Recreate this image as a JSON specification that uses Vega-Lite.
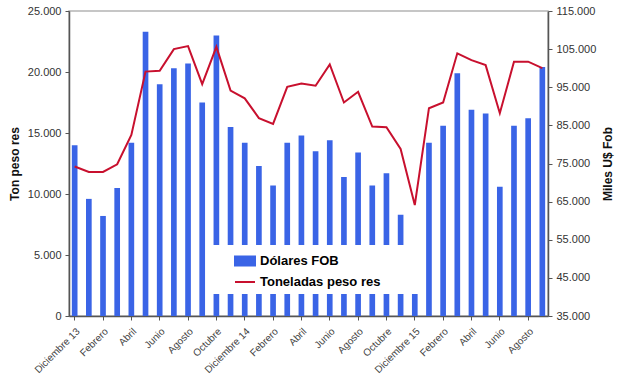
{
  "$schema": "https://vega.github.io/schema/vega-lite/v6.json",
  "width": 479,
  "height": 305,
  "autosize": {"type": "none"},
  "padding": {"left": 69, "top": 11, "right": 72, "bottom": 59},
  "background": "white",
  "config": {
    "font": "Liberation Sans",
    "view": {"stroke": "#b4b4b4", "strokeWidth": 1.5},
    "axis": {"domainColor": "#555555", "tickColor": "#555555", "labelColor": "#333333", "titleColor": "#111111", "grid": false, "labelFont": "Liberation Sans", "titleFont": "Liberation Sans"}
  },
  "data": {
    "values": [
      {"mes": "Diciembre 13", "dolares_fob": 14000, "toneladas": 74200},
      {"mes": "Enero 14", "dolares_fob": 9600, "toneladas": 72800},
      {"mes": "Febrero 14", "dolares_fob": 8200, "toneladas": 72800},
      {"mes": "Marzo 14", "dolares_fob": 10500, "toneladas": 74800},
      {"mes": "Abril 14", "dolares_fob": 14200, "toneladas": 82500},
      {"mes": "Mayo 14", "dolares_fob": 23300, "toneladas": 99100},
      {"mes": "Junio 14", "dolares_fob": 19000, "toneladas": 99300},
      {"mes": "Julio 14", "dolares_fob": 20300, "toneladas": 105000},
      {"mes": "Agosto 14", "dolares_fob": 20700, "toneladas": 105800},
      {"mes": "Septiembre 14", "dolares_fob": 17500, "toneladas": 95800},
      {"mes": "Octubre 14", "dolares_fob": 23000, "toneladas": 105600},
      {"mes": "Noviembre 14", "dolares_fob": 15500, "toneladas": 94100},
      {"mes": "Diciembre 14", "dolares_fob": 14200, "toneladas": 92100},
      {"mes": "Enero 15", "dolares_fob": 12300, "toneladas": 86900},
      {"mes": "Febrero 15", "dolares_fob": 10700, "toneladas": 85400},
      {"mes": "Marzo 15", "dolares_fob": 14200, "toneladas": 95100},
      {"mes": "Abril 15", "dolares_fob": 14800, "toneladas": 96000},
      {"mes": "Mayo 15", "dolares_fob": 13500, "toneladas": 95400},
      {"mes": "Junio 15", "dolares_fob": 14400, "toneladas": 101000},
      {"mes": "Julio 15", "dolares_fob": 11400, "toneladas": 91000},
      {"mes": "Agosto 15", "dolares_fob": 13400, "toneladas": 93800},
      {"mes": "Septiembre 15", "dolares_fob": 10700, "toneladas": 84700},
      {"mes": "Octubre 15", "dolares_fob": 11700, "toneladas": 84500},
      {"mes": "Noviembre 15", "dolares_fob": 8300, "toneladas": 78800},
      {"mes": "Diciembre 15", "dolares_fob": 4000, "toneladas": 64100},
      {"mes": "Enero 16", "dolares_fob": 14200, "toneladas": 89500},
      {"mes": "Febrero 16", "dolares_fob": 15600, "toneladas": 91000},
      {"mes": "Marzo 16", "dolares_fob": 19900, "toneladas": 103900},
      {"mes": "Abril 16", "dolares_fob": 16900, "toneladas": 102100},
      {"mes": "Mayo 16", "dolares_fob": 16600, "toneladas": 100800},
      {"mes": "Junio 16", "dolares_fob": 10600, "toneladas": 88200},
      {"mes": "Julio 16", "dolares_fob": 15600, "toneladas": 101700},
      {"mes": "Agosto 16", "dolares_fob": 16200, "toneladas": 101700},
      {"mes": "Septiembre 16", "dolares_fob": 20400, "toneladas": 100000}
    ]
  },
  "encoding": {
    "x": {
      "field": "mes",
      "type": "ordinal",
      "sort": null,
      "scale": {"type": "band", "paddingInner": 0.6, "paddingOuter": 0.2},
      "axis": {
        "title": null,
        "values": ["Diciembre 13", "Febrero 14", "Abril 14", "Junio 14", "Agosto 14", "Octubre 14", "Diciembre 14", "Febrero 15", "Abril 15", "Junio 15", "Agosto 15", "Octubre 15", "Diciembre 15", "Febrero 16", "Abril 16", "Junio 16", "Agosto 16"],
        "labelExpr": "indexof(datum.value, 'Diciembre') === 0 ? datum.value : split(datum.value, ' ')[0]",
        "labelAngle": -45,
        "labelFontSize": 10,
        "labelColor": "#444444",
        "labelPadding": 6,
        "tickSize": 4,
        "domainWidth": 1.5
      }
    }
  },
  "layer": [
    {
      "mark": {"type": "bar", "color": "#3a64e6"},
      "encoding": {
        "y": {
          "field": "dolares_fob",
          "type": "quantitative",
          "scale": {"domain": [0, 25000], "nice": false},
          "axis": {
            "title": "Ton peso res",
            "titleFontSize": 12,
            "titleFontWeight": "bold",
            "titlePadding": 6,
            "values": [0, 5000, 10000, 15000, 20000, 25000],
            "labelExpr": "replace(format(datum.value, ','), ',', '.')",
            "labelFontSize": 11,
            "labelPadding": 4,
            "tickSize": 4,
            "domainWidth": 1.5
          }
        },
        "color": {
          "datum": "Dólares FOB",
          "scale": {"domain": ["Dólares FOB", "Toneladas peso res"], "range": ["#3a64e6", "#c8102e"]},
          "legend": {
            "title": null,
            "orient": "none",
            "legendX": 142,
            "legendY": 234,
            "fillColor": "white",
            "padding": 5,
            "symbolOffset": 18,
            "symbolSize": 400,
            "labelOffset": 4,
            "rowPadding": 1,
            "labelFont": "Liberation Sans",
            "labelFontSize": 13,
            "labelFontWeight": "bold",
            "labelColor": "#000000",
            "labelLimit": 400,
            "labelExpr": "datum.label + '\u2800\u2800\u2800\u2800'",
            "encode": {
              "symbols": {
                "update": {
                  "shape": {"signal": "datum.value === 'Dólares FOB' ? 'M-1,-0.45H1V0.45H-1Z' : 'M-1,0H1'"},
                  "fill": {"signal": "datum.value === 'Dólares FOB' ? '#3a64e6' : 'transparent'"},
                  "stroke": {"signal": "datum.value === 'Dólares FOB' ? 'transparent' : '#c8102e'"},
                  "strokeWidth": {"value": 2},
                  "opacity": {"value": 1}
                }
              }
            }
          }
        }
      }
    },
    {
      "mark": {"type": "line", "color": "#c8102e", "strokeWidth": 2},
      "encoding": {
        "y": {
          "field": "toneladas",
          "type": "quantitative",
          "scale": {"domain": [35000, 115000], "nice": false},
          "axis": {
            "orient": "right",
            "title": "Miles U$ Fob",
            "titleAngle": 270,
            "titleFontSize": 12,
            "titleFontWeight": "bold",
            "titlePadding": 19,
            "values": [35000, 45000, 55000, 65000, 75000, 85000, 95000, 105000, 115000],
            "labelExpr": "replace(format(datum.value, ','), ',', '.')",
            "labelFontSize": 11,
            "labelPadding": 4,
            "tickSize": 4,
            "domainWidth": 1.5
          }
        },
        "color": {"datum": "Toneladas peso res"}
      }
    }
  ],
  "resolve": {"scale": {"y": "independent"}}
}
